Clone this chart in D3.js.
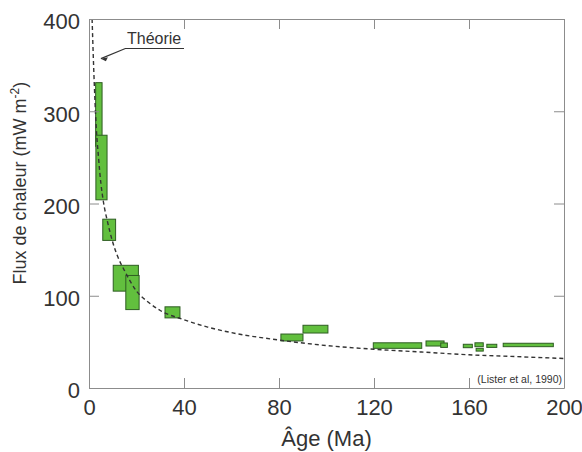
<!DOCTYPE html>
<html>
<head>
<meta charset="utf-8">
<script src="https://cdn.jsdelivr.net/npm/d3@7"></script>
<style>
  body { margin: 0; background: #fff; }
  text { font-family: "Liberation Sans", Arial, Helvetica, sans-serif; fill: #333; }
</style>
</head>
<body>
<div id="chart"></div>
<script>
/// Axis ticks
var ageTicks = [0, 40, 80, 120, 160, 200];
var fluxTicks = [0, 100, 200, 300, 400];

/// Measured heat flow ranges (age in Ma, flux in mW m-2), one entry per box
var boxAgeMin  = [2.8, 2.9, 5.8, 10.2, 15.5, 32.0, 80.8, 90.1, 119.7, 141.9, 148.1, 157.6, 162.5, 163.0, 167.5, 174.4];
var boxAgeMax  = [5.5, 7.6, 11.2, 20.8, 21.1, 38.3, 90.1, 100.6, 140.1, 149.5, 150.9, 161.4, 166.0, 166.0, 171.7, 195.5];
var boxFluxMin = [262, 204, 160, 105, 85, 76, 51, 59.6, 43, 45.5, 44, 43.7, 44.8, 40, 44, 44.8];
var boxFluxMax = [331, 274, 183, 133, 122, 88, 58.5, 68, 49, 51, 48.8, 47.4, 49, 43, 47.4, 48.5];

/// Theoretical curve
var theoryAge  = [1.3, 2, 3, 4, 5, 6, 8, 10, 12, 15, 20, 25, 30, 40, 50, 60, 80, 100, 120, 140, 160, 180, 200];
var theoryFlux = [400, 345, 285, 250, 222, 203, 178, 158, 143, 127, 105, 93, 84, 74, 66, 60, 52, 46, 42, 39, 36, 34, 32];

var svgWidth = 582;
var svgHeight = 452;

var margin = { top: 19, right: 18, bottom: 64, left: 89 };
var width = svgWidth - margin.left - margin.right;
var height = svgHeight - margin.top - margin.bottom;

var svg = d3.select("#chart")
  .append("svg")
  .attr("width", svgWidth)
  .attr("height", svgHeight);

var chartGroup = svg.append("g")
  .attr("transform", `translate(${margin.left}, ${margin.top})`);

var xScale = d3.scaleLinear().domain([0, 200]).range([0, width]);
var yScale = d3.scaleLinear().domain([0, 400]).range([height, 0]);

var frameColor = "#8c8c8c";

/// Boxes
var boxes = boxAgeMin.map(function(a, i) {
  return { a0: a, a1: boxAgeMax[i], f0: boxFluxMin[i], f1: boxFluxMax[i] };
});

chartGroup.selectAll("rect.box")
  .data(boxes)
  .enter()
  .append("rect")
  .attr("class", "box")
  .attr("x", d => xScale(d.a0))
  .attr("y", d => yScale(d.f1))
  .attr("width", d => xScale(d.a1) - xScale(d.a0))
  .attr("height", d => yScale(d.f0) - yScale(d.f1))
  .attr("fill", "#62bf3e")
  .attr("stroke", "#2e5d22")
  .attr("stroke-width", 1);

/// Theory curve (dashed)
var theory = theoryAge.map((a, i) => ({ age: a, flux: theoryFlux[i] }));
var line = d3.line()
  .x(d => xScale(d.age))
  .y(d => yScale(d.flux))
  .curve(d3.curveMonotoneX);

chartGroup.append("path")
  .datum(theory)
  .attr("d", line)
  .attr("fill", "none")
  .attr("stroke", "#333")
  .attr("stroke-width", 1.4)
  .attr("stroke-dasharray", "4,3");

/// Axes: ticks point inward on all four sides
var bottomAxis = d3.axisBottom(xScale).tickValues(ageTicks).tickSizeInner(-10).tickSizeOuter(0).tickPadding(10);
var topAxis = d3.axisTop(xScale).tickValues(ageTicks).tickSizeInner(-10).tickSizeOuter(0).tickFormat("");
var leftAxis = d3.axisLeft(yScale).tickValues(fluxTicks).tickSizeInner(-10).tickSizeOuter(0).tickPadding(9);
var rightAxis = d3.axisRight(yScale).tickValues(fluxTicks).tickSizeInner(-10).tickSizeOuter(0).tickFormat("");

var gx = chartGroup.append("g").attr("transform", `translate(0, ${height})`).call(bottomAxis);
var gt = chartGroup.append("g").call(topAxis);
var gy = chartGroup.append("g").call(leftAxis);
var gr = chartGroup.append("g").attr("transform", `translate(${width}, 0)`).call(rightAxis);

[gx, gt, gy, gr].forEach(function(g) {
  g.select(".domain").attr("stroke", frameColor);
  g.selectAll(".tick line").attr("stroke", frameColor);
  g.selectAll("text").attr("font-size", 22).attr("fill", "#333")
    .style("font-family", "'Liberation Sans', Arial, sans-serif");
});
gx.selectAll("text").attr("dy", "0.75em");
gy.selectAll("text").attr("dy", "0.45em");

/// Axis titles
chartGroup.append("text")
  .attr("transform", `translate(${-margin.left + 26}, ${yScale(222)}) rotate(-90)`)
  .attr("text-anchor", "middle")
  .attr("font-size", 18)
  .text("Flux de chaleur (mW m")
  .append("tspan").attr("baseline-shift", "super").attr("font-size", 12).text("-2")
  .select(function() { return this.parentNode; })
  .append("tspan").text(")");

chartGroup.append("text")
  .attr("x", xScale(100))
  .attr("y", height + 58)
  .attr("text-anchor", "middle")
  .attr("font-size", 22)
  .text("Âge (Ma)");

/// Annotation "Théorie"
chartGroup.append("text")
  .attr("x", xScale(16))
  .attr("y", yScale(373))
  .attr("font-size", 16)
  .text("Théorie");

chartGroup.append("path")
  .attr("d", `M${xScale(40)},${yScale(368)} L${xScale(15.3)},${yScale(368)} L${xScale(5)},${yScale(357)}`)
  .attr("fill", "none")
  .attr("stroke", "#333")
  .attr("stroke-width", 1.2);

chartGroup.append("path")
  .attr("d", `M${xScale(5)},${yScale(357)} l7,-1.5 l-2,4 z`)
  .attr("fill", "#333");

/// Source
chartGroup.append("text")
  .attr("x", width - 2)
  .attr("y", height - 5)
  .attr("text-anchor", "end")
  .attr("font-size", 10.5)
  .attr("fill", "#555")
  .text("(Lister et al, 1990)");
</script>
</body>
</html>
